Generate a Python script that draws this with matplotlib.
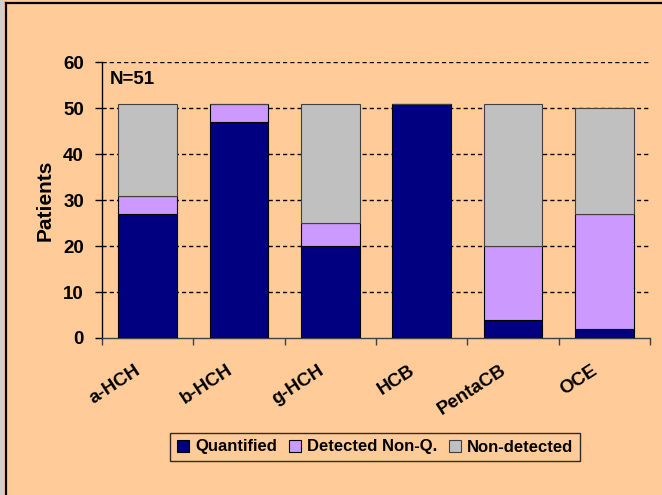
import matplotlib
matplotlib.use("Agg")
import matplotlib.pyplot as plt
import matplotlib.transforms as mtransforms
from matplotlib.lines import Line2D
import numpy as np

categories = ["a-HCH", "b-HCH", "g-HCH", "HCB", "PentaCB", "OCE"]
quantified = [27, 47, 20, 51, 4, 2]
detected_nonq = [4, 4, 5, 0, 16, 25]
non_detected = [20, 0, 26, 0, 31, 23]
series_names = ["Quantified", "Detected Non-Q.", "Non-detected"]
colors = ["#000080", "#CC99FF", "#C0C0C0"]
yticks = [0, 10, 20, 30, 40, 50, 60]

plt.rcParams['font.family'] = ['Liberation Sans', 'DejaVu Sans']
plt.rcParams['font.weight'] = 'bold'

bg = "#FFCC99"
W, H = 662, 495
fig = plt.figure(figsize=(W / 100, H / 100), dpi=100)
fig.patch.set_facecolor(bg)

# partial frame (left and top visible, as in the cropped reference)
fig.add_artist(Line2D([5.5 / W, 5.5 / W], [0, 1 - 2.5 / H], transform=fig.transFigure,
                      color="black", linewidth=1.6))
fig.add_artist(Line2D([5.5 / W, 1], [1 - 2.5 / H, 1 - 2.5 / H], transform=fig.transFigure,
                      color="black", linewidth=1.6))
fig.add_artist(Line2D([1.5 / W, 1.5 / W], [0, 1], transform=fig.transFigure,
                      color="#D0D0D0", linewidth=3))

ax = fig.add_axes([102 / W, 1 - 338 / H, 548 / W, (338 - 62.3) / H])
ax.set_facecolor(bg)

x = np.arange(len(categories))
width = 0.64
q = np.array(quantified)
d = np.array(detected_nonq)
n = np.array(non_detected)
ax.bar(x, q, width, color=colors[0], edgecolor="black", linewidth=0.8, label=series_names[0], zorder=3)
ax.bar(x, d, width, bottom=q, color=colors[1], edgecolor="black", linewidth=0.8, label=series_names[1], zorder=3)
ax.bar(x, n, width, bottom=q + d, color=colors[2], edgecolor="#404040", linewidth=0.8, label=series_names[2], zorder=3)

ax.set_xlim(-0.5, len(categories) - 0.5)
ax.set_ylim(0, 60)
ax.set_yticks(yticks)
ax.set_yticklabels([str(v) for v in yticks], fontsize=13.5, fontweight='bold')
for v in yticks[1:]:
    ax.axhline(v, color="black", linewidth=1.0, linestyle=(0, (3, 2.2)), zorder=1)

ax.set_xticks(np.arange(-0.5, len(categories), 1.0))
ax.set_xticklabels([])
ax.set_xticks(x, minor=True)
ax.set_xticklabels(categories, minor=True, rotation=33, ha='right', rotation_mode='anchor',
                   fontsize=13.5, fontweight='bold')
ax.tick_params(axis='x', which='minor', length=0, pad=17)
ax.tick_params(axis='x', which='major', length=5, width=1, color="#404040", direction='out')
ax.tick_params(axis='y', length=5, width=1, direction='out', pad=8)
offset = mtransforms.ScaledTranslation(-13 / 100, 0, fig.dpi_scale_trans)
for lbl in ax.get_xticklabels(minor=True):
    lbl.set_transform(lbl.get_transform() + offset)

ax.spines['top'].set_visible(False)
ax.spines['right'].set_visible(False)
ax.spines['left'].set_color("black")
ax.spines['bottom'].set_color("#404040")
ax.spines['left'].set_linewidth(1.0)
ax.spines['bottom'].set_linewidth(1.0)

ax.set_ylabel("Patients", fontsize=15, fontweight='bold', labelpad=6)
ax.text(-0.42, 56.2, "N=51", fontsize=13.5, fontweight='bold', va='center', ha='left')

leg = fig.legend(loc='center', bbox_to_anchor=(375 / W, 1 - 447 / H), ncol=3,
                 frameon=True, fancybox=False, edgecolor="black", facecolor=bg,
                 prop={'size': 12, 'weight': 'bold'}, handlelength=0.75, handleheight=0.75,
                 handletextpad=0.35, columnspacing=0.7, borderpad=0.4)
leg.get_frame().set_linewidth(1.0)

fig.savefig("out.png", dpi=100, facecolor=fig.get_facecolor())
